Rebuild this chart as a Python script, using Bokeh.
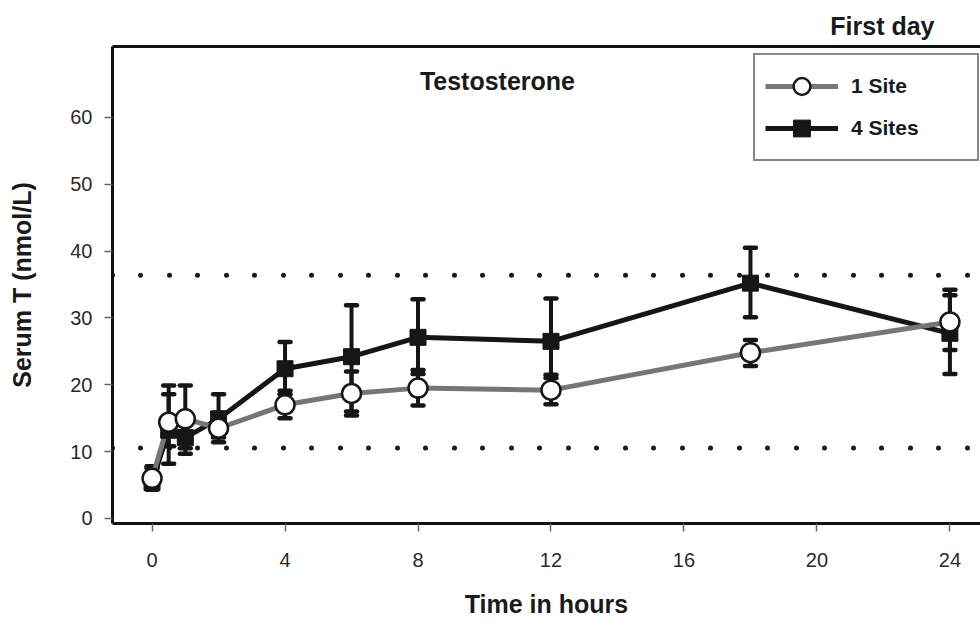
from bokeh.plotting import figure
from bokeh.models import (Range1d, LinearAxis, FixedTicker, Whisker, TeeHead,
                          ColumnDataSource, Span, Label, Legend, LegendItem)
from bokeh.embed import file_html
from bokeh.resources import INLINE

# ---- data ----
times = [0, 0.5, 1, 2, 4, 6, 8, 12, 18, 24]

one_site_mean = [6.0, 14.4, 14.9, 13.5, 17.0, 18.7, 19.5, 19.2, 24.8, 29.4]
one_site_low = [4.6, 10.8, 10.5, 11.4, 15.0, 15.4, 16.9, 17.1, 22.8, 25.2]
one_site_high = [7.5, 18.6, 19.9, 15.8, 19.1, 22.0, 22.2, 21.5, 26.7, 34.2]

four_sites_mean = [5.4, 13.2, 12.1, 14.9, 22.4, 24.2, 27.1, 26.5, 35.2, 27.7]
four_sites_low = [4.3, 8.2, 9.7, 12.1, 18.6, 16.0, 21.6, 21.0, 30.1, 21.6]
four_sites_high = [7.8, 19.9, 14.5, 18.6, 26.4, 31.9, 32.8, 32.9, 40.5, 33.4]

normal_range = [10.55, 36.4]

x_ticks = [0, 4, 8, 12, 16, 20, 24]
y_ticks = [0, 10, 20, 30, 40, 50, 60]

FONT = "Liberation Sans"

src1 = ColumnDataSource(dict(t=times, m=one_site_mean, lo=one_site_low, hi=one_site_high))
src4 = ColumnDataSource(dict(t=times, m=four_sites_mean, lo=four_sites_low, hi=four_sites_high))

p = figure(width=980, height=620, output_backend="svg", toolbar_location=None,
           x_range=Range1d(-1.19, 24.92), y_range=Range1d(-0.75, 70.6),
           min_border_left=112, min_border_right=0, min_border_top=46,
           min_border_bottom=97, title="First day")
p.grid.visible = False
p.outline_line_color = None
p.background_fill_color = "white"
p.border_fill_color = "white"

p.title.align = "right"
p.title.offset = 46
p.title.text_font = FONT
p.title.text_font_size = "25px"
p.title.text_font_style = "bold"
p.title.text_color = "#1a1a1a"
p.title.standoff = 14

# axes
for ax in (p.xaxis[0], p.yaxis[0]):
    ax.axis_line_width = 3
    ax.axis_line_color = "#111111"
    ax.major_tick_line_color = "#666666"
    ax.major_tick_line_width = 1.5
    ax.major_tick_out = 8
    ax.major_tick_in = 0
    ax.minor_tick_line_color = None
    ax.major_label_text_font = FONT
    ax.major_label_text_font_size = "20px"
    ax.major_label_text_color = "#2a2a2a"
    ax.axis_label_text_font = FONT
    ax.axis_label_text_font_size = "25px"
    ax.axis_label_text_font_style = "bold"
    ax.axis_label_text_color = "#1a1a1a"

p.xaxis[0].ticker = FixedTicker(ticks=x_ticks)
p.yaxis[0].ticker = FixedTicker(ticks=y_ticks)
p.xaxis[0].axis_label = "Time in hours"
p.yaxis[0].axis_label = "Serum T (nmol/L)"
p.xaxis[0].major_label_standoff = 21
p.xaxis[0].axis_label_standoff = 20
p.yaxis[0].major_label_standoff = 12
p.yaxis[0].axis_label_standoff = 31

top_axis = LinearAxis(ticker=FixedTicker(ticks=[]), axis_line_width=3,
                      axis_line_color="#111111", major_tick_out=0, major_tick_in=0,
                      minor_tick_out=0, minor_tick_in=0, major_label_standoff=0,
                      major_label_text_font_size="0px")
p.add_layout(top_axis, "above")

# normal range dotted lines
for v in normal_range:
    p.add_layout(Span(location=v, dimension="width", line_color="#1a1a1a",
                      line_width=5, line_dash="0 28 0 29", line_cap="round",
                      level="underlay"))

# error bars
for src in (src1, src4):
    w = Whisker(source=src, base="t", lower="lo", upper="hi",
                line_color="#151515", line_width=4,
                upper_head=TeeHead(size=11, line_width=4.5, line_color="#151515", line_cap="round"),
                lower_head=TeeHead(size=11, line_width=4.5, line_color="#151515", line_cap="round"))
    p.add_layout(w)

# lines and markers
l4 = p.line("t", "m", source=src4, line_color="#161616", line_width=5, line_join="round")
l1 = p.line("t", "m", source=src1, line_color="#767676", line_width=5, line_join="round")
s4 = p.scatter("t", "m", source=src4, marker="square", size=16,
               fill_color="#161616", line_color="#161616", line_width=1)
c1 = p.scatter("t", "m", source=src1, marker="circle", size=19,
               fill_color="white", line_color="#161616", line_width=2.5)

p.add_layout(Label(x=10.39, y=65.4, text="Testosterone", text_align="center",
                   text_baseline="middle", text_font=FONT, text_font_size="25px",
                   text_font_style="bold", text_color="#1a1a1a"))

legend = Legend(items=[LegendItem(label="1 Site", renderers=[l1, c1]),
                       LegendItem(label="4 Sites", renderers=[l4, s4])],
                location=(641, 362), orientation="vertical",
                label_text_font=FONT, label_text_font_size="21px",
                label_text_font_style="bold", label_text_color="#1a1a1a",
                glyph_width=73, glyph_height=42, label_standoff=13, spacing=0,
                padding=10, label_width=116, label_height=20,
                border_line_color="#111111", border_line_width=2.5,
                background_fill_color="white", background_fill_alpha=1)
p.add_layout(legend)

open("out.html", "w").write(file_html(p, INLINE))
